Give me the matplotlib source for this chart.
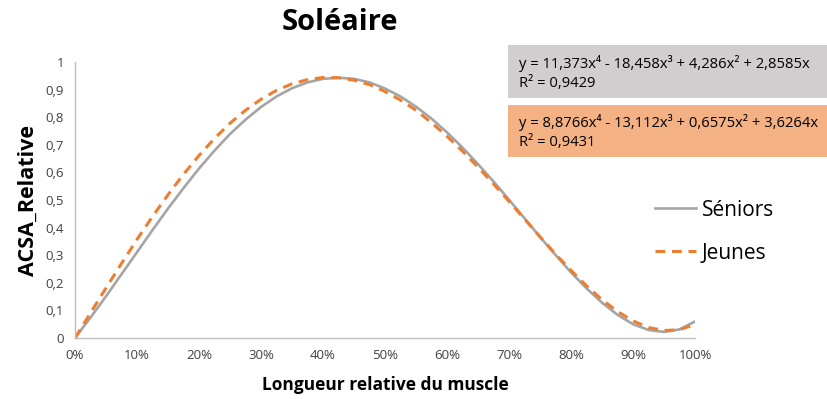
import matplotlib.pyplot as plt
from matplotlib.patches import Rectangle
from matplotlib.ticker import FuncFormatter

plt.rcParams['font.family'] = ['Open Sans', 'DejaVu Sans']

# longueur relative du muscle (0..1), pas de 2,5 %
longueur = [i * 0.025 for i in range(41)]
seniors = [0.000, 0.074, 0.151, 0.231, 0.311, 0.391, 0.469, 0.543, 0.614, 0.679,
           0.739, 0.791, 0.837, 0.875, 0.905, 0.926, 0.939, 0.943, 0.939, 0.926,
           0.904, 0.875, 0.838, 0.795, 0.745, 0.690, 0.630, 0.567, 0.501, 0.434,
           0.366, 0.301, 0.238, 0.180, 0.128, 0.084, 0.050, 0.029, 0.022, 0.031,
           0.060]
jeunes = [0.000, 0.091, 0.181, 0.270, 0.357, 0.440, 0.519, 0.593, 0.661, 0.723,
          0.778, 0.825, 0.865, 0.897, 0.921, 0.936, 0.944, 0.943, 0.934, 0.918,
          0.893, 0.862, 0.825, 0.780, 0.731, 0.677, 0.619, 0.558, 0.495, 0.431,
          0.367, 0.304, 0.245, 0.189, 0.139, 0.096, 0.062, 0.038, 0.027, 0.030,
          0.049]

eq_seniors = "y = 11,373x⁴ - 18,458x³ + 4,286x² + 2,8585x\nR² = 0,9429"
eq_jeunes = "y = 8,8766x⁴ - 13,112x³ + 0,6575x² + 3,6264x\nR² = 0,9431"

GRIS = "#A5A5A5"
ORANGE = "#ED7D31"

fig = plt.figure(figsize=(8.28, 3.99), dpi=100)
ax = fig.add_axes([75/828, 1-338/399, 620/828, 276/399])

ax.plot(longueur, seniors, color=GRIS, lw=1.9, label="Séniors")
ax.plot(longueur, jeunes, color=ORANGE, lw=2.2, ls=(0, (3.2, 2.2)), label="Jeunes")

ax.set_xlim(0, 1)
ax.set_ylim(0, 1)
ax.set_xticks([i/10 for i in range(11)])
ax.set_yticks([i/10 for i in range(11)])
ax.xaxis.set_major_formatter(FuncFormatter(lambda v, p: f"{v*100:.0f}%"))
ax.yaxis.set_major_formatter(FuncFormatter(
    lambda v, p: f"{v:.0f}" if round(v, 3) in (0, 1) else f"{v:.1f}".replace(".", ",")))
ax.tick_params(length=0, labelsize=9.5, colors="#404040", pad=8)
for s in ["top", "right"]:
    ax.spines[s].set_visible(False)
for s in ["left", "bottom"]:
    ax.spines[s].set_color("#BFBFBF")
    ax.spines[s].set_linewidth(1)

ax.set_xlabel("Longueur relative du muscle", fontsize=12.5, fontweight="bold", labelpad=10)
ax.set_ylabel("ACSA_Relative", fontsize=15.5, fontweight="bold", labelpad=5)
fig.text(340/828, 1-22/399, "Soléaire", fontsize=21, fontweight="bold", ha="center", va="center")

# boites des equations
fig.patches.append(Rectangle((508/828, 1-98/399), 320/828, 53/399, transform=fig.transFigure,
                             facecolor="#D0CECE", edgecolor="none"))
fig.patches.append(Rectangle((508/828, 1-157/399), 320/828, 52/399, transform=fig.transFigure,
                             facecolor="#F4B183", edgecolor="none"))
fig.text(519/828, 1-73/399, eq_seniors, fontsize=10.6, ha="left", va="center", linespacing=1.45)
fig.text(519/828, 1-132/399, eq_jeunes, fontsize=10.6, ha="left", va="center", linespacing=1.45)

ax.legend(loc="upper left", bbox_to_anchor=(636/828, 1-181/399), bbox_transform=fig.transFigure,
          frameon=False, fontsize=15, handlelength=2.0, handletextpad=0.25, labelspacing=1.05)

fig.savefig("out.png", dpi=100)
